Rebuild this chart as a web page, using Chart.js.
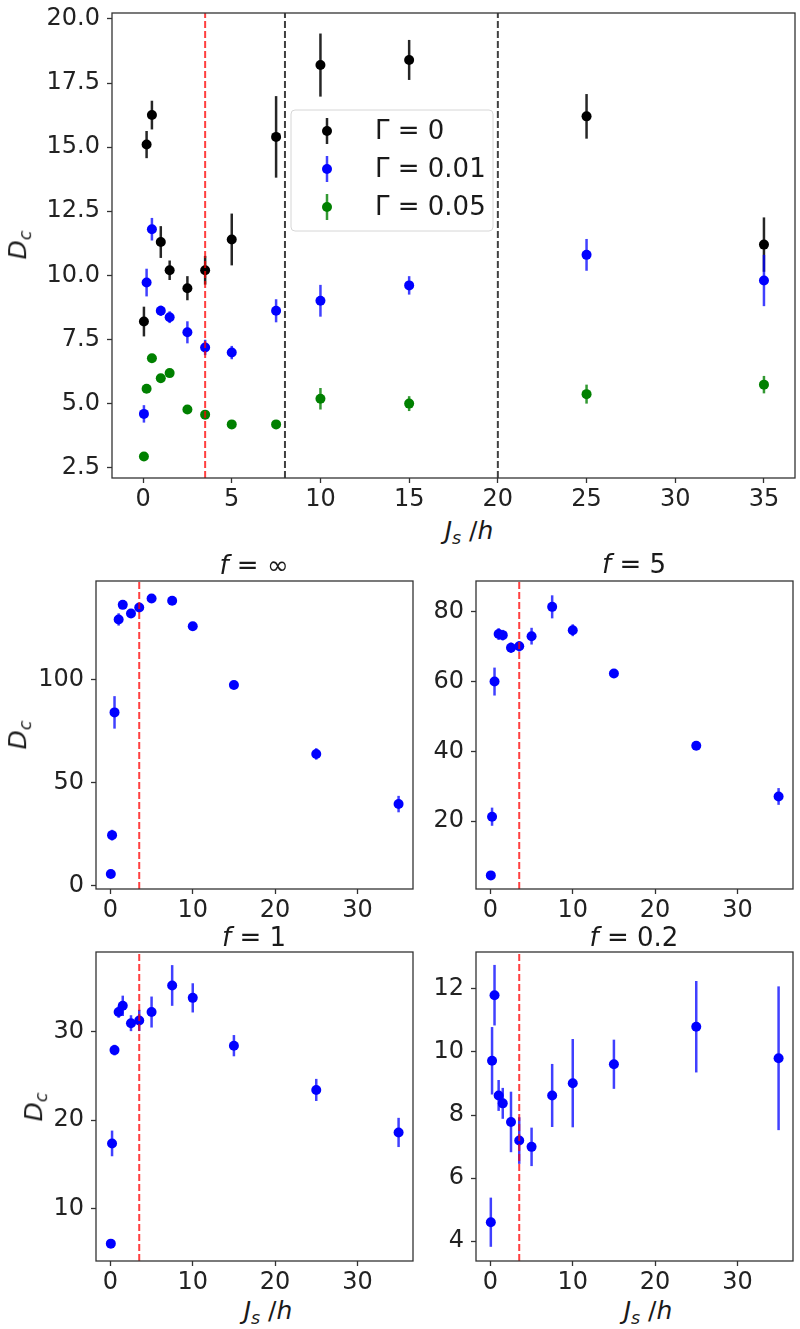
<!DOCTYPE html>
<html>
<head>
<meta charset="utf-8">
<script src="https://cdn.jsdelivr.net/npm/chart.js@4.4.1/dist/chart.umd.min.js"></script>
<style>
body { margin: 0; background: #fff; }
#wrap { position: relative; width: 800px; height: 1329px; }
canvas { position: absolute; }
.lab { position: absolute; font-family: 'DejaVu Sans', sans-serif; font-size: 25px; color: #1a1a1a; white-space: nowrap; line-height: 1; transform: translate(-50%, -50%); }
.rot { transform: translate(-50%, -50%) rotate(-90deg); }
.lab sub { font-size: 0.7em; vertical-align: -0.3em; }
</style>
</head>
<body>
<div id="wrap">
  <canvas id="top" width="800" height="512" style="left:0;top:0"></canvas>
  <canvas id="fInf" width="420" height="352" style="left:0;top:571px"></canvas>
  <canvas id="f5" width="400" height="352" style="left:400px;top:571px"></canvas>
  <canvas id="f1" width="420" height="353" style="left:0;top:942px"></canvas>
  <canvas id="f02" width="400" height="353" style="left:400px;top:942px"></canvas>

  <div class="lab" style="left:469px;top:533px"><i>J</i><sub><i>s</i></sub> /<i>h</i></div>
  <div class="lab rot" style="left:20px;top:245px"><i>D</i><sub><i>c</i></sub></div>

  <div class="lab" style="left:254px;top:565px;font-size:26px"><i>f</i> = ∞</div>
  <div class="lab" style="left:634px;top:564px;font-size:26px"><i>f</i> = 5</div>
  <div class="lab" style="left:254px;top:937px;font-size:26px"><i>f</i> = 1</div>
  <div class="lab" style="left:634px;top:937px;font-size:26px"><i>f</i> = 0.2</div>

  <div class="lab rot" style="left:20px;top:735px"><i>D</i><sub><i>c</i></sub></div>
  <div class="lab rot" style="left:36px;top:1107px"><i>D</i><sub><i>c</i></sub></div>
  <div class="lab" style="left:268px;top:1313px"><i>J</i><sub><i>s</i></sub> /<i>h</i></div>
  <div class="lab" style="left:648px;top:1313px"><i>J</i><sub><i>s</i></sub> /<i>h</i></div>
</div>

<script>
// valores de J_s/h
const jsVals = [0.05, 0.2, 0.5, 1, 1.5, 2.5, 3.5, 5, 7.5, 10, 15, 25, 35];

// panel superior
const legendNames = ['Γ = 0', 'Γ = 0.01', 'Γ = 0.05'];
const gamma0 = [8.2, 15.1, 16.25, 11.3, 10.2, 9.5, 10.2, 11.4, 15.4, 18.2, 18.4, 16.2, 11.2];
const gamma0Err = [0.58, 0.53, 0.56, 0.62, 0.38, 0.47, 0.56, 1.01, 1.59, 1.23, 0.78, 0.87, 1.06];
const gamma001 = [4.6, 9.72, 11.8, 8.62, 8.37, 7.78, 7.19, 6.99, 8.62, 9.01, 9.61, 10.8, 9.8];
const gamma001Err = [0.34, 0.54, 0.44, 0.2, 0.23, 0.43, 0.3, 0.26, 0.45, 0.62, 0.36, 0.62, 1.0];
const gamma005 = [2.94, 5.58, 6.77, 5.99, 6.19, 4.77, 4.57, 4.19, 4.19, 5.19, 5.0, 5.37, 5.74];
const gamma005Err = [0.05, 0.15, 0.1, 0.1, 0.1, 0.1, 0.1, 0.1, 0.1, 0.42, 0.29, 0.37, 0.34];

// paneles f
const fInf = [5.5, 24.4, 84.1, 129.3, 136.4, 132.2, 135.1, 139.5, 138.4, 126, 97.4, 63.9, 39.5];
const fInfErr = [0.8, 2.6, 7.9, 3, 1.5, 1.2, 2, 1.5, 2, 1.5, 1.5, 2.8, 4];
const f5 = [4.5, 21.3, 60, 73.6, 73.3, 69.7, 70.1, 73, 81.4, 74.7, 62.3, 41.6, 27.1];
const f5Err = [0.5, 2.6, 4, 1.7, 1.5, 1.5, 1.5, 2.4, 3.3, 1.7, 0.8, 1, 2.4];
const f1 = [6.04, 17.36, 27.9, 32.2, 32.9, 30.94, 31.25, 32.2, 35.2, 33.8, 28.4, 23.4, 18.6];
const f1Err = [0.2, 1.45, 0.6, 0.66, 1.15, 0.9, 1.2, 1.75, 2.3, 1.65, 1.2, 1.25, 1.65];
const f02 = [4.6, 9.72, 11.8, 8.62, 8.37, 7.78, 7.19, 6.99, 8.62, 9.01, 9.61, 10.8, 9.8];
const f02Err = [0.78, 1.07, 0.96, 0.49, 0.49, 0.96, 0.74, 0.61, 1.0, 1.4, 0.78, 1.45, 2.28];

// ticks
const topXTicks = [0, 5, 10, 15, 20, 25, 30, 35];
const panelXTicks = [0, 10, 20, 30];
const topYTicks = [2.5, 5, 7.5, 10, 12.5, 15, 17.5, 20];
const fInfYTicks = [0, 50, 100];
const f5YTicks = [20, 40, 60, 80];
const f1YTicks = [10, 20, 30];
const f02YTicks = [4, 6, 8, 10, 12];

// lineas verticales
const redLineAt = 3.5;
const blackLinesAt = [8, 20];

const pts = vals => vals.map((v, i) => ({ x: jsVals[i], y: v }));

function serie(vals, err, color, errColor, order) {
    return {
        data: pts(vals), err: err, errColor: errColor,
        pointRadius: 5, pointBackgroundColor: color, pointBorderWidth: 0,
        order: order
    };
}

function vline(xv, yMin, yMax, color) {
    return {
        data: [{ x: xv, y: yMin }, { x: xv, y: yMax }],
        showLine: true, pointRadius: 0,
        borderColor: color, borderWidth: 2, borderDash: [7, 3],
        order: 0
    };
}

function axes(xMin, xMax, xTicks, yMin, yMax, yTicks, yWidth, yFmt) {
    const tickFont = { family: 'DejaVu Sans', size: 24 };
    const grid = { drawOnChartArea: false, tickLength: 5, color: '#333', tickWidth: 1.3 };
    return {
        x: {
            type: 'linear', min: xMin, max: xMax,
            border: { display: false }, grid: grid,
            ticks: { font: tickFont, color: '#222', padding: 2, autoSkip: false, maxRotation: 0 },
            afterBuildTicks: s => { s.ticks = xTicks.map(v => ({ value: v })); },
            afterFit: s => { s.height = 34; s.paddingLeft = 0; s.paddingRight = 0; }
        },
        y: {
            type: 'linear', min: yMin, max: yMax,
            border: { display: false }, grid: grid,
            ticks: { font: tickFont, color: '#222', padding: 7, autoSkip: false, callback: yFmt },
            afterBuildTicks: s => { s.ticks = yTicks.map(v => ({ value: v })); },
            afterFit: s => { s.width = yWidth; s.paddingTop = 0; s.paddingBottom = 0; }
        }
    };
}

// barras de error debajo de cada serie
const errorBars = {
    id: 'errorBars',
    beforeDatasetDraw(chart, args) {
        const ds = chart.data.datasets[args.index];
        if (!ds.err) return;
        const { ctx, scales: { x, y } } = chart;
        ctx.save();
        ctx.strokeStyle = ds.errColor;
        ctx.lineWidth = 2.5;
        ds.data.forEach((p, i) => {
            const px = x.getPixelForValue(p.x);
            ctx.beginPath();
            ctx.moveTo(px, y.getPixelForValue(p.y - ds.err[i]));
            ctx.lineTo(px, y.getPixelForValue(p.y + ds.err[i]));
            ctx.stroke();
        });
        ctx.restore();
    }
};

const frame = {
    id: 'frame',
    afterDraw(chart) {
        const { ctx, chartArea: a } = chart;
        ctx.save();
        ctx.strokeStyle = '#333';
        ctx.lineWidth = 1.3;
        ctx.strokeRect(a.left, a.top, a.right - a.left, a.bottom - a.top);
        ctx.restore();
    }
};

const topColors = ['#000000', '#0000ff', '#008000'];
const topErrColors = ['rgba(0,0,0,0.85)', 'rgba(0,0,255,0.75)', 'rgba(0,128,0,0.8)'];

const legendBox = {
    id: 'legendBox',
    afterDraw(chart) {
        const ctx = chart.ctx;
        ctx.save();
        ctx.beginPath();
        ctx.roundRect(291, 110, 202, 121, 4);
        ctx.fillStyle = 'rgba(255,255,255,0.8)';
        ctx.fill();
        ctx.strokeStyle = '#d6d6d6';
        ctx.lineWidth = 1;
        ctx.stroke();
        ctx.font = '26px "DejaVu Sans"';
        ctx.textBaseline = 'middle';
        legendNames.forEach((name, i) => {
            const cy = 131 + i * 38;
            ctx.strokeStyle = topErrColors[i];
            ctx.lineWidth = 2.5;
            ctx.beginPath();
            ctx.moveTo(327, cy - 13);
            ctx.lineTo(327, cy + 13);
            ctx.stroke();
            ctx.fillStyle = topColors[i];
            ctx.beginPath();
            ctx.arc(327, cy, 5, 0, Math.PI * 2);
            ctx.fill();
            ctx.fillStyle = '#1a1a1a';
            ctx.fillText(name, 375, cy + 1);
        });
        ctx.restore();
    }
};

function makeChart(id, datasets, scales, pad, extra) {
    return new Chart(document.getElementById(id), {
        type: 'scatter',
        data: { datasets: datasets },
        options: {
            responsive: false, animation: false, events: [],
            layout: { padding: pad },
            plugins: { legend: { display: false }, tooltip: { enabled: false } },
            scales: scales
        },
        plugins: [errorBars].concat(extra || [], [frame])
    });
}

const fmt1 = v => v.toFixed(1);
const fmt0 = v => String(v);

// grafico superior
const topMin = 2.1, topMax = 20.23;
const topChart = makeChart('top', [
    serie(gamma0, gamma0Err, topColors[0], topErrColors[0], 3),
    serie(gamma001, gamma001Err, topColors[1], topErrColors[1], 2),
    serie(gamma005, gamma005Err, topColors[2], topErrColors[2], 1),
    vline(redLineAt, topMin, topMax, 'rgba(255,0,0,0.75)'),
    vline(blackLinesAt[0], topMin, topMax, 'rgba(30,30,30,0.85)'),
    vline(blackLinesAt[1], topMin, topMax, 'rgba(30,30,30,0.85)')
], axes(-1.75, 36.75, topXTicks, topMin, topMax, topYTicks, 112, fmt1), { top: 13, right: 4 }, [legendBox]);

// paneles inferiores
function panel(id, vals, err, yMin, yMax, yTicks, yWidth) {
    return makeChart(id, [
        serie(vals, err, '#0000ff', 'rgba(0,0,255,0.75)', 1),
        vline(redLineAt, yMin, yMax, 'rgba(255,0,0,0.75)')
    ], axes(-1.75, 36.75, panelXTicks, yMin, yMax, yTicks, yWidth, fmt0), { top: 10, right: 7 });
}

const fInfChart = panel('fInf', fInf, fInfErr, -1.8, 148, fInfYTicks, 96);
const f5Chart = panel('f5', f5, f5Err, 0.6, 88.8, f5YTicks, 76);
const f1Chart = panel('f1', f1, f1Err, 4.08, 38.98, f1YTicks, 96);
const f02Chart = panel('f02', f02, f02Err, 3.37, 13.17, f02YTicks, 76);
</script>
</body>
</html>
